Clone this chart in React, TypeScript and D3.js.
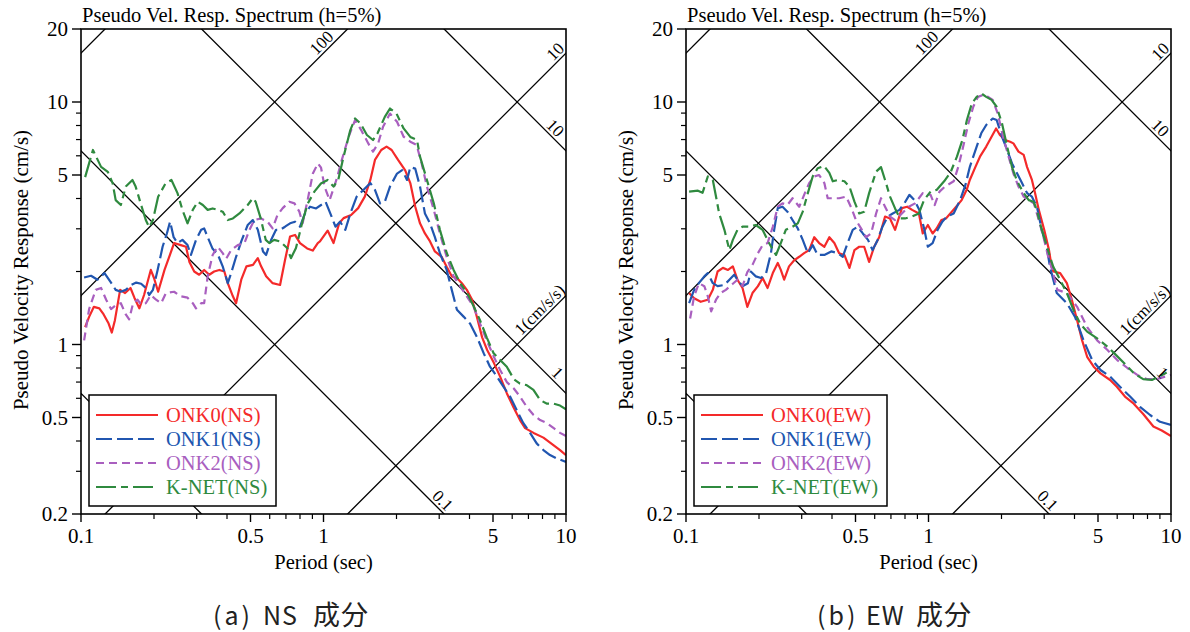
import React from "react";
import * as d3 from "d3";

type Pt = [number, number];

// ---------- axis ticks ----------
const periodMajorTicks = [0.1, 0.5, 1, 5, 10];
const periodMinorTicks = [0.2, 0.3, 0.4, 0.6, 0.7, 0.8, 0.9, 2, 3, 4, 6, 7, 8, 9];
const velocityMajorTicks = [0.2, 0.5, 1, 5, 10, 20];
const velocityMinorTicks = [0.3, 0.4, 0.6, 0.7, 0.8, 0.9, 2, 3, 4, 6, 7, 8, 9];

// ---------- tripartite grid (cm/s/s and cm) ----------
const accelerationLevels = [1, 10, 100, 1000];
const displacementLevels = [0.01, 0.1, 1, 10];
const accelerationLabels = [
  { level: 100, text: "100", period: 1.04 },
  { level: 10, text: "10", period: 9.58 },
  { level: 1, text: "1(cm/s/s)", period: 8.26 },
];
const displacementLabels = [
  { level: 10, text: "10", period: 8.52 },
  { level: 1, text: "1", period: 8.7 },
  { level: 0.1, text: "0.1", period: 2.93 },
];

// ---------- NS component [period (s), pseudo velocity (cm/s)] ----------
const onk0NS: Pt[] = [
  [0.104, 1.18], [0.108, 1.3], [0.113, 1.43], [0.119, 1.41], [0.124, 1.33], [0.13, 1.22], [0.134, 1.12],
  [0.138, 1.26], [0.145, 1.68], [0.152, 1.63], [0.16, 1.71], [0.166, 1.56], [0.174, 1.41], [0.182, 1.6],
  [0.194, 2.03], [0.2, 1.88], [0.208, 1.65], [0.221, 2.03], [0.234, 2.38], [0.242, 2.62], [0.258, 2.57],
  [0.271, 2.53], [0.28, 2.19], [0.293, 2.0], [0.307, 1.94], [0.322, 2.03], [0.338, 1.94], [0.354, 2.0],
  [0.372, 2.03], [0.39, 2.0], [0.403, 1.79], [0.423, 1.58], [0.436, 1.48], [0.458, 1.85], [0.481, 2.1],
  [0.512, 2.13], [0.536, 2.27], [0.553, 2.1], [0.58, 1.91], [0.617, 1.79], [0.662, 1.76], [0.694, 2.23],
  [0.728, 2.79], [0.763, 2.83], [0.8, 2.62], [0.856, 2.49], [0.903, 2.44], [0.947, 2.62], [0.967, 2.66],
  [1.04, 2.95], [1.1, 2.62], [1.16, 3.16], [1.21, 3.32], [1.3, 3.42], [1.39, 3.65], [1.48, 4.07],
  [1.56, 4.77], [1.63, 5.77], [1.73, 6.34], [1.82, 6.55], [1.91, 6.34], [2.03, 5.77], [2.17, 5.24],
  [2.28, 4.63], [2.39, 3.7], [2.5, 3.16], [2.62, 2.87], [2.75, 2.66], [2.88, 2.42], [3.07, 2.3],
  [3.22, 2.09], [3.38, 1.91], [3.55, 1.88], [3.72, 1.79], [3.9, 1.68], [4.1, 1.53], [4.3, 1.29],
  [4.51, 1.07], [4.73, 0.949], [5.04, 0.84], [5.35, 0.737], [5.7, 0.63], [6.08, 0.55], [6.46, 0.488],
  [6.78, 0.452], [7.35, 0.432], [8.07, 0.413], [8.87, 0.385], [9.45, 0.367], [10.0, 0.35],
];
const onk1NS: Pt[] = [
  [0.103, 1.89], [0.11, 1.92], [0.117, 1.85], [0.125, 1.97], [0.133, 1.8], [0.139, 1.68], [0.146, 1.65],
  [0.153, 1.68], [0.161, 1.76], [0.169, 1.8], [0.177, 1.78], [0.185, 1.71], [0.191, 1.6], [0.198, 1.68],
  [0.207, 2.03], [0.217, 2.53], [0.226, 2.87], [0.233, 3.21], [0.241, 2.77], [0.25, 2.62], [0.262, 2.7],
  [0.275, 2.57], [0.284, 2.34], [0.298, 2.7], [0.313, 2.97], [0.322, 3.01], [0.333, 2.77], [0.349, 2.48],
  [0.366, 2.36], [0.384, 2.1], [0.403, 1.79], [0.416, 1.97], [0.436, 2.3], [0.458, 2.66], [0.487, 3.11],
  [0.511, 3.26], [0.536, 2.97], [0.563, 2.42], [0.58, 2.34], [0.608, 2.7], [0.637, 2.97], [0.662, 2.97],
  [0.694, 3.06], [0.728, 3.16], [0.763, 3.21], [0.8, 3.06], [0.839, 3.47], [0.88, 3.7], [0.932, 3.64],
  [0.977, 3.76], [1.02, 3.88], [1.08, 3.37], [1.12, 3.06], [1.17, 3.21], [1.23, 2.97], [1.29, 3.47],
  [1.37, 4.07], [1.46, 4.34], [1.56, 4.63], [1.63, 4.34], [1.71, 3.82], [1.79, 3.88], [1.88, 4.48],
  [2.01, 5.07], [2.11, 5.24], [2.21, 4.77], [2.28, 5.39], [2.39, 5.31], [2.5, 4.48], [2.62, 3.47],
  [2.75, 3.16], [2.88, 2.77], [3.02, 2.38], [3.22, 2.03], [3.38, 1.68], [3.55, 1.39], [3.79, 1.3],
  [4.02, 1.22], [4.3, 1.07], [4.58, 0.919], [4.86, 0.81], [5.19, 0.737], [5.52, 0.67], [5.88, 0.61],
  [6.26, 0.537], [6.67, 0.474], [7.11, 0.432], [7.57, 0.391], [8.07, 0.367], [8.59, 0.35], [9.15, 0.339],
  [10.0, 0.328],
];
const onk2NS: Pt[] = [
  [0.103, 1.04], [0.108, 1.4], [0.115, 1.68], [0.121, 1.71], [0.127, 1.53], [0.133, 1.4], [0.139, 1.45],
  [0.146, 1.48], [0.153, 1.33], [0.158, 1.27], [0.164, 1.48], [0.171, 1.53], [0.177, 1.46], [0.185, 1.48],
  [0.194, 1.6], [0.204, 1.53], [0.214, 1.48], [0.224, 1.63], [0.242, 1.65], [0.258, 1.58], [0.275, 1.56],
  [0.289, 1.48], [0.298, 1.41], [0.313, 1.48], [0.322, 1.48], [0.333, 1.91], [0.349, 2.34], [0.366, 2.53],
  [0.384, 2.38], [0.397, 2.26], [0.416, 2.45], [0.443, 2.57], [0.472, 2.62], [0.495, 2.97], [0.518, 3.26],
  [0.553, 3.31], [0.588, 3.21], [0.617, 3.01], [0.646, 3.42], [0.679, 3.65], [0.723, 3.88], [0.759, 3.82],
  [0.795, 3.53], [0.82, 3.16], [0.86, 3.94], [0.904, 5.07], [0.948, 5.58], [0.977, 5.36], [1.01, 4.48],
  [1.06, 3.94], [1.13, 4.77], [1.19, 5.77], [1.27, 7.19], [1.35, 8.43], [1.43, 7.66], [1.53, 6.75],
  [1.6, 6.24], [1.68, 6.75], [1.76, 7.9], [1.88, 8.96], [2.01, 8.29], [2.14, 7.19], [2.28, 6.86],
  [2.42, 6.65], [2.54, 5.58], [2.67, 4.48], [2.85, 3.59], [3.02, 2.87], [3.22, 2.3], [3.44, 1.91],
  [3.66, 1.74], [3.9, 1.58], [4.16, 1.43], [4.42, 1.22], [4.71, 1.04], [5.04, 0.89], [5.35, 0.785],
  [5.7, 0.7], [6.08, 0.66], [6.46, 0.61], [6.89, 0.553], [7.35, 0.512], [7.82, 0.488], [8.35, 0.474],
  [8.9, 0.452], [9.45, 0.432], [10.0, 0.419],
];
const knetNS: Pt[] = [
  [0.104, 4.9], [0.112, 6.34], [0.121, 5.4], [0.129, 5.15], [0.135, 4.63], [0.139, 3.94], [0.146, 3.76],
  [0.153, 4.48], [0.163, 4.77], [0.168, 4.48], [0.177, 3.76], [0.185, 3.26], [0.191, 3.05], [0.198, 3.26],
  [0.208, 4.07], [0.223, 4.61], [0.236, 4.77], [0.25, 4.21], [0.262, 3.59], [0.275, 3.16], [0.289, 3.59],
  [0.303, 3.88], [0.318, 3.76], [0.333, 3.59], [0.349, 3.64], [0.366, 3.59], [0.384, 3.53], [0.403, 3.26],
  [0.423, 3.31], [0.45, 3.47], [0.487, 3.76], [0.511, 4.01], [0.525, 3.88], [0.551, 3.31], [0.578, 2.7],
  [0.597, 2.62], [0.626, 2.7], [0.662, 2.66], [0.708, 2.5], [0.734, 2.27], [0.77, 2.5], [0.822, 3.26],
  [0.862, 3.82], [0.917, 4.27], [0.976, 4.61], [1.04, 4.77], [1.1, 4.48], [1.15, 4.77], [1.21, 5.95],
  [1.29, 7.66], [1.35, 8.55], [1.42, 8.16], [1.51, 7.31], [1.6, 6.97], [1.67, 7.43], [1.79, 8.68],
  [1.88, 9.4], [2.0, 8.96], [2.14, 7.78], [2.28, 7.18], [2.43, 6.97], [2.5, 5.95], [2.67, 4.77],
  [2.85, 3.82], [3.02, 2.97], [3.22, 2.39], [3.44, 2.03], [3.66, 1.79], [3.91, 1.63], [4.17, 1.43],
  [4.42, 1.26], [4.71, 1.07], [5.03, 0.92], [5.35, 0.863], [5.7, 0.81], [6.09, 0.72], [6.46, 0.69],
  [6.88, 0.68], [7.34, 0.65], [7.82, 0.59], [8.35, 0.57], [8.9, 0.57], [9.45, 0.56], [10.0, 0.54],
];

// ---------- EW component ----------
const onk0EW: Pt[] = [
  [0.103, 1.63], [0.108, 1.55], [0.115, 1.5], [0.123, 1.53], [0.129, 1.68], [0.135, 2.0], [0.142, 2.07],
  [0.149, 2.03], [0.156, 2.1], [0.163, 1.85], [0.171, 1.71], [0.179, 1.43], [0.188, 1.63], [0.198, 1.74],
  [0.207, 1.88], [0.217, 1.71], [0.228, 1.97], [0.239, 2.17], [0.246, 2.03], [0.254, 1.85], [0.266, 2.1],
  [0.28, 2.23], [0.293, 2.3], [0.307, 2.38], [0.322, 2.45], [0.338, 2.77], [0.354, 2.62], [0.372, 2.53],
  [0.39, 2.77], [0.409, 2.62], [0.428, 2.38], [0.45, 2.34], [0.472, 2.07], [0.495, 2.45], [0.518, 2.53],
  [0.543, 2.53], [0.569, 2.19], [0.597, 2.53], [0.626, 2.77], [0.662, 3.37], [0.694, 3.31], [0.728, 2.97],
  [0.777, 3.65], [0.817, 3.7], [0.856, 3.59], [0.913, 3.47], [0.947, 2.87], [0.994, 3.11], [1.04, 2.87],
  [1.08, 3.01], [1.13, 3.26], [1.18, 3.31], [1.23, 3.47], [1.3, 3.7], [1.37, 3.94], [1.44, 4.37],
  [1.48, 4.77], [1.56, 5.39], [1.63, 5.95], [1.73, 6.55], [1.82, 7.19], [1.9, 7.78], [1.97, 7.31],
  [2.07, 6.97], [2.17, 6.86], [2.24, 6.75], [2.35, 6.24], [2.47, 6.05], [2.55, 5.39], [2.67, 4.77],
  [2.75, 4.21], [2.85, 3.59], [3.0, 2.97], [3.14, 2.45], [3.22, 2.09], [3.27, 2.0], [3.49, 1.97],
  [3.72, 1.79], [3.9, 1.53], [4.1, 1.26], [4.3, 1.04], [4.51, 0.89], [4.8, 0.81], [5.12, 0.76],
  [5.61, 0.714], [5.98, 0.67], [6.46, 0.61], [7.02, 0.57], [7.68, 0.517], [8.46, 0.459], [9.16, 0.442],
  [10.0, 0.419],
];
const onk1EW: Pt[] = [
  [0.103, 1.48], [0.108, 1.68], [0.113, 1.79], [0.119, 1.91], [0.123, 1.97], [0.129, 1.79], [0.135, 1.74],
  [0.144, 1.76], [0.151, 1.85], [0.158, 1.94], [0.163, 1.85], [0.171, 1.74], [0.18, 1.79], [0.185, 2.0],
  [0.194, 1.91], [0.204, 1.88], [0.214, 1.97], [0.224, 2.38], [0.231, 2.97], [0.239, 3.65], [0.25, 3.7],
  [0.262, 3.53], [0.275, 3.26], [0.289, 3.01], [0.303, 2.7], [0.318, 2.38], [0.333, 2.57], [0.349, 2.34],
  [0.372, 2.34], [0.397, 2.42], [0.423, 2.38], [0.443, 2.3], [0.464, 2.62], [0.487, 2.97], [0.511, 3.06],
  [0.536, 2.87], [0.563, 2.7], [0.588, 2.45], [0.617, 2.7], [0.646, 3.06], [0.679, 3.37], [0.712, 3.47],
  [0.759, 3.59], [0.795, 3.82], [0.834, 4.14], [0.874, 3.94], [0.917, 3.59], [0.962, 2.97], [0.994, 2.53],
  [1.04, 2.62], [1.09, 2.97], [1.14, 3.21], [1.19, 3.37], [1.27, 3.47], [1.35, 3.94], [1.42, 4.55],
  [1.48, 5.39], [1.58, 6.55], [1.65, 7.43], [1.73, 8.04], [1.84, 8.55], [1.91, 8.43], [2.01, 7.19],
  [2.11, 6.34], [2.21, 5.58], [2.32, 5.07], [2.43, 4.63], [2.55, 4.21], [2.67, 4.07], [2.8, 3.7],
  [2.93, 2.97], [3.07, 2.53], [3.17, 2.09], [3.38, 1.63], [3.72, 1.48], [4.02, 1.3], [4.36, 1.04],
  [4.73, 0.863], [5.12, 0.785], [5.61, 0.737], [6.16, 0.67], [6.78, 0.61], [7.45, 0.553], [8.2, 0.512],
  [9.01, 0.48], [10.0, 0.466],
];
const onk2EW: Pt[] = [
  [0.104, 1.28], [0.108, 1.58], [0.113, 1.79], [0.119, 1.74], [0.123, 1.58], [0.127, 1.37], [0.133, 1.53],
  [0.139, 1.63], [0.146, 1.68], [0.156, 1.78], [0.163, 1.85], [0.171, 1.74], [0.179, 1.99], [0.188, 2.13],
  [0.198, 2.38], [0.207, 2.57], [0.217, 2.62], [0.228, 3.06], [0.239, 3.7], [0.25, 3.82], [0.262, 3.76],
  [0.275, 4.01], [0.293, 3.7], [0.307, 4.14], [0.322, 4.63], [0.338, 4.93], [0.354, 5.0], [0.372, 4.63],
  [0.384, 4.01], [0.403, 4.01], [0.428, 4.01], [0.458, 4.07], [0.481, 3.65], [0.502, 3.26], [0.527, 3.01],
  [0.553, 2.77], [0.58, 2.87], [0.608, 3.47], [0.637, 4.01], [0.662, 3.7], [0.694, 3.37], [0.728, 3.26],
  [0.777, 3.47], [0.829, 3.7], [0.88, 3.82], [0.947, 4.21], [1.02, 4.14], [1.06, 3.76], [1.11, 4.27],
  [1.17, 4.48], [1.27, 4.71], [1.33, 5.44], [1.39, 6.55], [1.46, 8.16], [1.53, 9.56], [1.6, 10.5],
  [1.68, 10.7], [1.76, 10.5], [1.84, 10.2], [1.93, 8.96], [2.03, 7.19], [2.14, 5.95], [2.24, 5.07],
  [2.35, 4.48], [2.47, 4.07], [2.59, 3.94], [2.72, 3.82], [2.85, 3.26], [3.0, 2.7], [3.14, 2.23],
  [3.24, 2.03], [3.4, 1.68], [3.72, 1.63], [4.1, 1.43], [4.51, 1.18], [4.96, 1.04], [5.47, 0.949],
  [6.0, 0.863], [6.61, 0.8], [7.26, 0.749], [7.94, 0.72], [8.73, 0.72], [10.0, 0.749],
];
const knetEW: Pt[] = [
  [0.103, 4.27], [0.112, 4.31], [0.117, 4.22], [0.123, 4.93], [0.129, 4.77], [0.133, 4.07], [0.137, 3.47],
  [0.144, 2.97], [0.151, 2.45], [0.156, 2.7], [0.163, 2.97], [0.171, 3.06], [0.182, 3.06], [0.194, 3.11],
  [0.207, 2.97], [0.22, 2.62], [0.235, 2.34], [0.246, 2.62], [0.258, 2.97], [0.275, 3.06], [0.289, 3.16],
  [0.303, 3.53], [0.318, 4.21], [0.333, 4.93], [0.349, 5.33], [0.371, 5.45], [0.39, 5.1], [0.403, 4.71],
  [0.423, 4.77], [0.45, 4.71], [0.472, 4.48], [0.495, 3.88], [0.518, 3.47], [0.543, 3.53], [0.569, 4.21],
  [0.608, 5.16], [0.637, 5.39], [0.662, 4.77], [0.694, 4.07], [0.728, 3.64], [0.763, 3.31], [0.8, 3.31],
  [0.856, 3.37], [0.913, 3.47], [0.958, 3.94], [1.02, 4.27], [1.08, 4.34], [1.16, 4.71], [1.23, 5.1],
  [1.31, 5.95], [1.38, 6.97], [1.44, 8.43], [1.51, 9.87], [1.58, 10.5], [1.65, 10.85], [1.73, 10.5],
  [1.82, 10.2], [1.91, 9.56], [2.01, 8.16], [2.11, 6.55], [2.21, 5.39], [2.32, 4.71], [2.47, 4.21],
  [2.59, 3.94], [2.71, 3.88], [2.8, 3.59], [2.88, 3.16], [3.02, 2.7], [3.17, 2.3], [3.27, 2.09],
  [3.49, 1.85], [3.72, 1.63], [3.96, 1.39], [4.22, 1.22], [4.51, 1.13], [4.96, 1.06], [5.47, 0.98],
  [5.84, 0.919], [6.43, 0.835], [7.08, 0.757], [7.68, 0.72], [8.34, 0.714], [8.9, 0.737], [9.45, 0.76],
  [10.0, 0.785],
];

// ---------- series styling ----------
const seriesColors = ["#f42a2a", "#2156b0", "#a95fbf", "#2f8a3f"];
const seriesDashes = ["none", "16,5", "8,5", "20,5,7,5"];
const namesNS = ["ONK0(NS)", "ONK1(NS)", "ONK2(NS)", "K-NET(NS)"];
const namesEW = ["ONK0(EW)", "ONK1(EW)", "ONK2(EW)", "K-NET(EW)"];
const captionNS = ["(a)", "NS", "成分"];
const captionEW = ["(b)", "EW", "成分"];

const SERIF = "'Liberation Serif', 'Times New Roman', serif";
const CJK = "'Noto Sans CJK JP', sans-serif";
const TOP = 29;
const SIZE = 485;

type PanelProps = {
  left: number;
  data: Pt[][];
  names: string[];
  caption: string[];
  captionXs: number[];
  legendWidth: number;
  id: string;
};

function Panel({ left, data, names, caption, captionXs, legendWidth, id }: PanelProps) {
  const x = d3.scaleLog().domain([0.1, 10]).range([left, left + SIZE]);
  const y = d3.scaleLog().domain([0.2, 20]).range([TOP + SIZE, TOP]);
  const bottom = TOP + SIZE;
  const right = left + SIZE;
  const line = d3
    .line<Pt>()
    .x((d) => x(d[0]))
    .y((d) => y(d[1]))
    .curve(d3.curveLinear);
  const gridT = [0.01, 100];
  const accel = (a: number, t: number) => (a * t) / (2 * Math.PI);
  const disp = (dd: number, t: number) => (2 * Math.PI * dd) / t;
  const legendTop = 395;
  const rowYs = [415, 439, 463, 487];

  return (
    <g>
      <defs>
        <clipPath id={`clip-${id}`}>
          <rect x={left} y={TOP} width={SIZE} height={SIZE} />
        </clipPath>
      </defs>
      <g clipPath={`url(#clip-${id})`}>
        {accelerationLevels.map((a) => (
          <line
            key={`a${a}`}
            x1={x(gridT[0])}
            y1={y(accel(a, gridT[0]))}
            x2={x(gridT[1])}
            y2={y(accel(a, gridT[1]))}
            stroke="#000"
            strokeWidth={1.3}
          />
        ))}
        {displacementLevels.map((dd) => (
          <line
            key={`d${dd}`}
            x1={x(gridT[0])}
            y1={y(disp(dd, gridT[0]))}
            x2={x(gridT[1])}
            y2={y(disp(dd, gridT[1]))}
            stroke="#000"
            strokeWidth={1.3}
          />
        ))}
        {data.map((s, i) => (
          <path
            key={i}
            d={line(s) || ""}
            fill="none"
            stroke={seriesColors[i]}
            strokeWidth={2.2}
            strokeDasharray={seriesDashes[i]}
            strokeLinejoin="round"
          />
        ))}
      </g>
      {accelerationLabels.map((l) => (
        <text
          key={`al${l.text}`}
          transform={`translate(${x(l.period)},${y(accel(l.level, l.period))}) rotate(-45)`}
          y={-3}
          textAnchor="middle"
          fontFamily={SERIF}
          fontSize={17}
          fill="#000"
        >
          {l.text}
        </text>
      ))}
      {displacementLabels.map((l) => (
        <text
          key={`dl${l.text}`}
          transform={`translate(${x(l.period)},${y(disp(l.level, l.period))}) rotate(45)`}
          y={-3}
          textAnchor="middle"
          fontFamily={SERIF}
          fontSize={17}
          fill="#000"
        >
          {l.text}
        </text>
      ))}
      {/* frame */}
      <rect x={left} y={TOP} width={SIZE} height={SIZE} fill="none" stroke="#000" strokeWidth={1.6} />
      {/* y ticks */}
      {velocityMajorTicks.map((v) => (
        <g key={`yM${v}`}>
          <line x1={left - 9} x2={left} y1={y(v)} y2={y(v)} stroke="#000" strokeWidth={1.4} />
          <text
            x={left - 13}
            y={y(v)}
            dy="0.35em"
            textAnchor="end"
            fontFamily={SERIF}
            fontSize={21}
            fill="#000"
          >
            {v}
          </text>
        </g>
      ))}
      {velocityMinorTicks.map((v) => (
        <line key={`ym${v}`} x1={left - 5} x2={left} y1={y(v)} y2={y(v)} stroke="#000" strokeWidth={1.2} />
      ))}
      {/* x ticks */}
      {periodMajorTicks.map((t) => (
        <g key={`xM${t}`}>
          <line x1={x(t)} x2={x(t)} y1={bottom} y2={bottom + 8} stroke="#000" strokeWidth={1.4} />
          <text
            x={x(t)}
            y={bottom + 29}
            textAnchor="middle"
            fontFamily={SERIF}
            fontSize={21}
            fill="#000"
          >
            {t}
          </text>
        </g>
      ))}
      {periodMinorTicks.map((t) => (
        <line key={`xm${t}`} x1={x(t)} x2={x(t)} y1={bottom} y2={bottom + 5} stroke="#000" strokeWidth={1.2} />
      ))}
      {/* titles */}
      <text x={left + 1} y={22} fontFamily={SERIF} fontSize={20.5} fill="#000">
        Pseudo Vel. Resp. Spectrum (h=5%)
      </text>
      <text
        x={(left + right) / 2}
        y={569}
        textAnchor="middle"
        fontFamily={SERIF}
        fontSize={20.5}
        fill="#000"
      >
        Period (sec)
      </text>
      <text
        transform={`translate(${left - 53},${270}) rotate(-90)`}
        textAnchor="middle"
        fontFamily={SERIF}
        fontSize={21}
        fill="#000"
      >
        Pseudo Velocity Response (cm/s)
      </text>
      {/* legend */}
      <rect
        x={left + 8}
        y={legendTop}
        width={legendWidth}
        height={111}
        fill="#fff"
        stroke="#000"
        strokeWidth={1.5}
      />
      {names.map((n, i) => (
        <g key={n}>
          <line
            x1={left + 15}
            x2={left + 77}
            y1={rowYs[i]}
            y2={rowYs[i]}
            stroke={seriesColors[i]}
            strokeWidth={2.2}
            strokeDasharray={seriesDashes[i]}
          />
          <text x={left + 85} y={rowYs[i] + 7} fontFamily={SERIF} fontSize={20.5} fill={seriesColors[i]}>
            {n}
          </text>
        </g>
      ))}
      {/* caption */}
      {caption.map((c, i) => (
        <text
          key={`cap${i}`}
          x={captionXs[i]}
          y={625}
          fontFamily={CJK}
          fontSize={i === 2 ? 27 : 25}
          letterSpacing={i === 0 ? 3 : 1}
          fill="#222"
        >
          {c}
        </text>
      ))}
    </g>
  );
}

export default function App() {
  return (
    <svg
      width={1190}
      height={632}
      style={{ position: "absolute", left: 0, top: 0, background: "#fff" }}
    >
      <rect x={0} y={0} width={1190} height={632} fill="#fff" />
      <Panel
        left={81}
        data={[onk0NS, onk1NS, onk2NS, knetNS]}
        names={namesNS}
        caption={captionNS}
        captionXs={[213, 263, 313]}
        legendWidth={187}
        id="ns"
      />
      <Panel
        left={686}
        data={[onk0EW, onk1EW, onk2EW, knetEW]}
        names={namesEW}
        caption={captionEW}
        captionXs={[817, 866, 916]}
        legendWidth={193}
        id="ew"
      />
    </svg>
  );
}
